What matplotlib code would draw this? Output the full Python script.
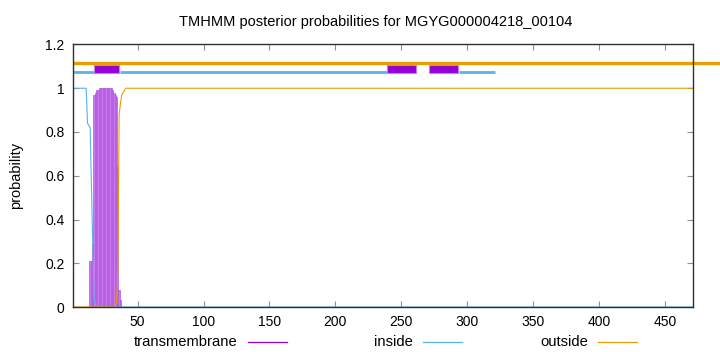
"""TMHMM posterior probabilities plot, gnuplot look-alike."""

import matplotlib

matplotlib.use("Agg")
import matplotlib.pyplot as plt
from matplotlib.lines import Line2D
from matplotlib.patches import Rectangle

plt.rcParams["font.family"] = ["Liberation Sans", "DejaVu Sans"]
plt.rcParams["font.size"] = 10

PROTEIN = "MGYG000004218_00104"
SEQ_LEN = 471

# per-residue posterior probabilities
tm_pos = list(range(14, 38))
tm_prob = [0.21, 0.21, 0.29, 0.97, 0.98, 0.99, 0.99,
           1.0, 1.0, 1.0, 1.0, 1.0, 1.0, 1.0, 1.0, 1.0, 1.0,
           0.99, 0.98, 0.97, 0.96, 0.64, 0.08, 0.03]

inside_pos = [1, 11, 12, 13, 14, 15, 16, 17, 18, 19, 471]
inside_prob = [1.0, 1.0, 0.84, 0.83, 0.82, 0.55, 0.28, 0.04, 0.01, 0.0, 0.0]

outside_pos = [1, 33, 34, 35, 36, 37, 38, 39, 40, 41, 471]
outside_prob = [0.0, 0.0, 0.02, 0.15, 0.88, 0.93, 0.97, 0.98, 0.99, 1.0, 1.0]

# predicted topology segments (start, end)
tm_segments = [(17, 36), (239, 261), (271, 293)]
inside_segments = [(1, 17), (37, 239), (294, 321)]
outside_segments = [(1, 495)]

C_TM = "#9400d3"
C_IN = "#56b4e9"
C_OUT = "#e69f00"
BORDER = "#303030"


def main() -> int:
    fig = plt.figure(figsize=(7.2, 3.52), dpi=100)
    ax = fig.add_axes([0.1014, 0.1278, 0.8606, 0.7458])

    ax.bar(tm_pos, tm_prob, width=1.0, color="#c97aec",
           edgecolor="#b257e2", linewidth=0.5, zorder=2)
    ax.plot(inside_pos, inside_prob, color=C_IN, linewidth=0.8, zorder=3)
    ax.plot(outside_pos, outside_prob, color=C_OUT, linewidth=0.8, zorder=3)

    # topology bar along the top
    for start, end in inside_segments:
        ax.plot([start, end], [1.073, 1.073], color=C_IN, linewidth=2.0,
                solid_capstyle="butt", zorder=4)
    for start, end in tm_segments:
        ax.add_patch(Rectangle((start, 1.07), end - start, 0.038,
                               facecolor=C_TM, edgecolor="#c87de8",
                               linewidth=0.8, zorder=5))
    for start, end in outside_segments:
        ax.plot([start, end], [1.114, 1.114], color=C_OUT, linewidth=2.4,
                solid_capstyle="butt", clip_on=False, zorder=6)

    ax.set_xlim(1, SEQ_LEN)
    ax.set_ylim(0, 1.2)
    ax.set_xticks(range(50, 451, 50))
    ax.set_yticks([0, 0.2, 0.4, 0.6, 0.8, 1.0, 1.2])
    ax.set_yticklabels(["0", "0.2", "0.4", "0.6", "0.8", "1", "1.2"])
    ax.tick_params(direction="in", length=4, width=0.8, color="#909090",
                   top=True, right=True, pad=6)
    for spine in ax.spines.values():
        spine.set_color(BORDER)
        spine.set_linewidth(1.0)
        spine.set_zorder(7)

    ax.set_ylabel("probability", fontsize=10.5)
    ax.yaxis.set_label_coords(-0.081, 0.5)
    fig.text(375.5 / 720, 1 - 22 / 352,
             f"TMHMM posterior probabilities for {PROTEIN}",
             ha="center", va="center", fontsize=10.5)

    # gnuplot-style key below the plot: text then sample line
    key_y = 1 - 341.5 / 352
    for label, color, text_end in [("transmembrane", C_TM, 238),
                                   ("inside", C_IN, 413),
                                   ("outside", C_OUT, 588)]:
        fig.text(text_end / 720, key_y, label, ha="right", va="center",
                 fontsize=10.6)
        fig.add_artist(Line2D([(text_end + 10) / 720, (text_end + 49) / 720],
                              [key_y, key_y], color=color, linewidth=0.9))

    fig.savefig("out.png", dpi=100)
    plt.close(fig)
    return 0


if __name__ == "__main__":
    raise SystemExit(main())
